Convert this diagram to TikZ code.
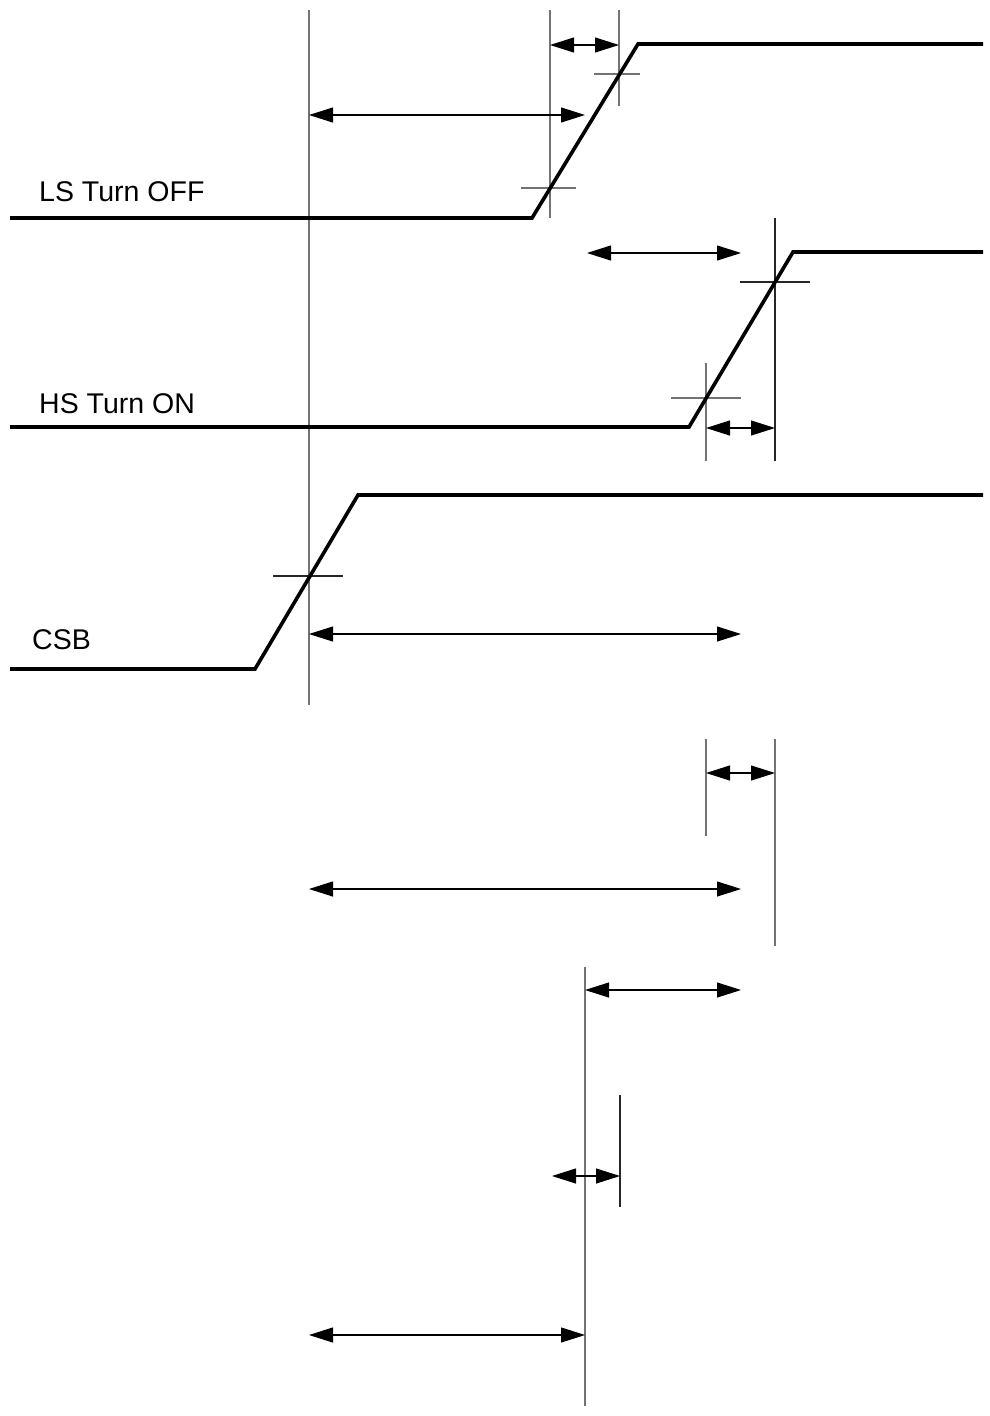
\documentclass[tikz,border=0pt]{standalone}
\usepackage{fontspec}
\setmainfont{Liberation Sans}
\usetikzlibrary{arrows.meta}
\begin{document}
\begin{tikzpicture}[x=1pt,y=-1pt,
  wave/.style={line width=3.6pt,line join=miter},
  refline/.style={line width=1.2pt,draw=black!55},
  refdark/.style={line width=1.2pt,draw=black!85},
  dim/.style={line width=1.1pt,{Triangle[length=24pt,width=15pt]}-{Triangle[length=24pt,width=15pt]}},
  lbl/.style={anchor=base west,inner sep=0pt,font=\fontsize{28.5}{30}\selectfont}]
\useasboundingbox (0,0) rectangle (989,1416);
% labels
\node[lbl] (lsl) at (39,201) {LS Turn OFF};
\node[lbl] (hsl) at (39,413) {HS Turn ON};
\node[lbl] (csl) at (32,649) {CSB};
% waveform corners
\coordinate (ls0) at (10,218); \coordinate (ls1) at (532,218);
\coordinate (ls2) at (638,44);  \coordinate (ls3) at (983,44);
\coordinate (hs0) at (10,427); \coordinate (hs1) at (689,427);
\coordinate (hs2) at (793,252); \coordinate (hs3) at (983,252);
\coordinate (cs0) at (10,669); \coordinate (cs1) at (255,669);
\coordinate (cs2) at (358,495); \coordinate (cs3) at (983,495);
% reference lines
\coordinate (va0) at (309,10);  \coordinate (va1) at (309,705);
\coordinate (vb0) at (550,10);  \coordinate (vb1) at (550,218);
\coordinate (vc0) at (619,10);  \coordinate (vc1) at (619,106);
\coordinate (vd0) at (775,218); \coordinate (vd1) at (775,461);
\coordinate (ve0) at (706,363); \coordinate (ve1) at (706,461);
\coordinate (vf0) at (706,739); \coordinate (vf1) at (706,836);
\coordinate (vg0) at (775,739); \coordinate (vg1) at (775,946);
\coordinate (vh0) at (585,967); \coordinate (vh1) at (585,1406);
\coordinate (vi0) at (620,1095); \coordinate (vi1) at (620,1207);
\draw[refline] (va0) -- (va1);
\draw[refline] (vb0) -- (vb1);
\draw[refline] (vc0) -- (vc1);
\draw[refdark] (vd0) -- (vd1);
\draw[refline] (ve0) -- (ve1);
\draw[refline] (vf0) -- (vf1);
\draw[refline] (vg0) -- (vg1);
\draw[refline] (vh0) -- (vh1);
\draw[refdark] (vi0) -- (vi1);
% crosshair horizontals
\coordinate (ha0) at (521,188); \coordinate (ha1) at (576,188);
\coordinate (hb0) at (594,74);  \coordinate (hb1) at (640,74);
\coordinate (hc0) at (740,282); \coordinate (hc1) at (810,282);
\coordinate (hd0) at (671,398); \coordinate (hd1) at (741,398);
\coordinate (he0) at (273,576); \coordinate (he1) at (343,576);
\draw[refline] (ha0) -- (ha1);
\draw[refline] (hb0) -- (hb1);
\draw[refdark] (hc0) -- (hc1);
\draw[refline] (hd0) -- (hd1);
\draw[refdark] (he0) -- (he1);
% waveforms
\draw[wave] (ls0) -- (ls1) -- (ls2) -- (ls3);
\draw[wave] (hs0) -- (hs1) -- (hs2) -- (hs3);
\draw[wave] (cs0) -- (cs1) -- (cs2) -- (cs3);
% dimension arrows
\coordinate (a1l) at (550,45);  \coordinate (a1r) at (619,45);
\coordinate (a2l) at (309,115); \coordinate (a2r) at (585,115);
\coordinate (a3l) at (587,253); \coordinate (a3r) at (741,253);
\coordinate (a4l) at (706,428); \coordinate (a4r) at (775,428);
\coordinate (a5l) at (309,634); \coordinate (a5r) at (741,634);
\coordinate (a6l) at (706,773); \coordinate (a6r) at (775,773);
\coordinate (a7l) at (309,889); \coordinate (a7r) at (741,889);
\coordinate (a8l) at (585,990); \coordinate (a8r) at (741,990);
\coordinate (a9l) at (552,1176); \coordinate (a9r) at (620,1176);
\coordinate (a10l) at (309,1335); \coordinate (a10r) at (585,1335);
\foreach \i in {1,...,10} {\draw[dim] (a\i l) -- (a\i r);}
\end{tikzpicture}
\end{document}
